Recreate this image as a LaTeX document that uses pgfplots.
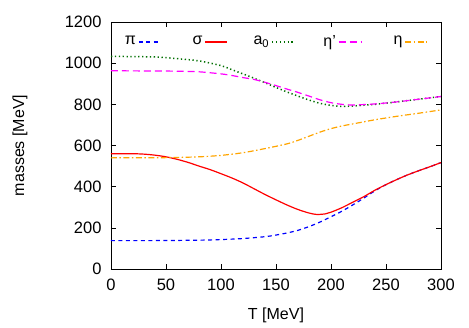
\documentclass[border=0pt]{standalone}
\usepackage{pgfplots}
\pgfplotsset{compat=1.18}
\usepackage{fontspec}
\setmainfont{Liberation Sans}
\definecolor{gpgreen}{RGB}{0,110,0}
\definecolor{gporange}{RGB}{255,165,0}
\definecolor{gpblue}{RGB}{0,0,255}
\definecolor{gpred}{RGB}{255,0,0}
\definecolor{gpmag}{RGB}{255,0,255}
\newcommand{\legtxt}[1]{\makebox[26bp][r]{#1}}
\tikzset{
  sPi/.style={color=gpblue, line width=1.2pt, dash pattern=on 4pt off 3.5pt},
  sSig/.style={color=gpred, line width=1.2pt},
  sA/.style={color=gpgreen, line width=1.5pt, dash pattern=on 1.3pt off 2.6pt},
  sEp/.style={color=gpmag, line width=1.2pt, dash pattern=on 7pt off 4pt},
  sEta/.style={color=gporange, line width=1.2pt, dash pattern=on 6pt off 2.5pt on 1.5pt off 2.5pt},
}
\begin{document}
\fontsize{16bp}{19bp}\selectfont
\begin{tikzpicture}
\begin{axis}[
  at={(0,0)}, anchor=south west,
  scale only axis, width=330bp, height=247bp,
  xmin=0, xmax=300, ymin=0, ymax=1200,
  xtick={0,50,...,300}, ytick={0,200,...,1200},
  tick align=inside, major tick length=5bp,
  tick style={black, line width=0.5pt},
  axis line style={line width=0.6pt},
  /pgf/number format/assume math mode=true,
  /pgf/number format/1000 sep={},
  ticklabel style={font=\fontsize{16.5bp}{19bp}\selectfont},
  label style={font=\fontsize{16bp}{19bp}\selectfont},
  xlabel={T [MeV]}, ylabel={masses [MeV]},
  xlabel style={at={(0.5,0)}, anchor=center, yshift=-46bp},
  ylabel style={at={(0,0.5)}, anchor=center, yshift=91bp},
  yticklabel style={xshift=-4bp},
  xticklabel style={yshift=-4bp},
  legend columns=5,
  legend plot pos=right,
  legend cell align=right,
  legend style={draw=none, fill=none, at={(0.5,1)}, anchor=north, yshift=-9bp, xshift=-8bp,
    font=\fontsize{16bp}{19bp}\selectfont,
    /tikz/every even column/.append style={column sep=13bp}},
  every axis plot/.append style={smooth, tension=0.5},
]
\addlegendimage{legend image code/.code={\draw[sPi, line width=1.6pt] (0bp,0bp) -- (22bp,0bp);}}
\addlegendentry{\legtxt{π}}
\addlegendimage{legend image code/.code={\draw[sSig, line width=1.6pt] (0bp,0bp) -- (22bp,0bp);}}
\addlegendentry{\legtxt{σ}}
\addlegendimage{legend image code/.code={\draw[sA, line width=1.7pt] (0bp,0bp) -- (22bp,0bp);}}
\addlegendentry{\legtxt{a\textsubscript{0}}}
\addlegendimage{legend image code/.code={\draw[sEp, line width=1.6pt] (0bp,0bp) -- (22bp,0bp);}}
\addlegendentry{\legtxt{η’}}
\addlegendimage{legend image code/.code={\draw[sEta, line width=1.6pt] (0bp,0bp) -- (22bp,0bp);}}
\addlegendentry{\legtxt{η}}
\addplot[sPi, forget plot] coordinates {
(0,138) (40,138) (80,140) (100,143) (120,148) (140,157) (150,165) (160,175) (170,188) (180,206) (190,228) (200,254) (210,281) (220,312) (230,345) (240,380) (250,410) (260,435) (270,458) (280,478) (290,497) (300,517)};
\addplot[sSig, forget plot] coordinates {
(0,560) (20,560) (30,558) (40,553) (50,545) (60,533) (70,518) (80,500) (90,483) (100,463) (110,442) (120,418) (130,390) (140,362) (150,336) (160,311) (170,289) (180,272) (187,265) (195,268) (200,276) (210,298) (220,325) (230,352) (240,383) (250,410) (260,435) (270,458) (280,478) (290,497) (300,517)};
\addplot[sA, forget plot] coordinates {
(0,1033) (40,1030) (60,1022) (80,1011) (100,988) (110,968) (120,948) (130,927) (140,905) (150,882) (160,860) (170,840) (180,821) (190,805) (200,795) (210,790) (220,792) (240,800) (260,812) (280,825) (300,838)};
\addplot[sEp, forget plot] coordinates {
(0,963) (40,962) (60,961) (80,958) (100,948) (110,940) (120,930) (130,921) (140,907) (150,891) (160,874) (170,858) (180,840) (190,822) (200,808) (210,800) (220,797) (240,802) (260,812) (280,825) (300,838)};
\addplot[sEta, forget plot] coordinates {
(0,540) (50,541) (80,545) (100,552) (120,565) (140,585) (160,608) (170,625) (180,645) (190,665) (200,682) (210,695) (220,705) (240,725) (260,742) (280,757) (300,773)};
\end{axis}
\pgfresetboundingbox
\path (-111bp,-59bp) rectangle (358bp,269bp);
\end{tikzpicture}
\end{document}
